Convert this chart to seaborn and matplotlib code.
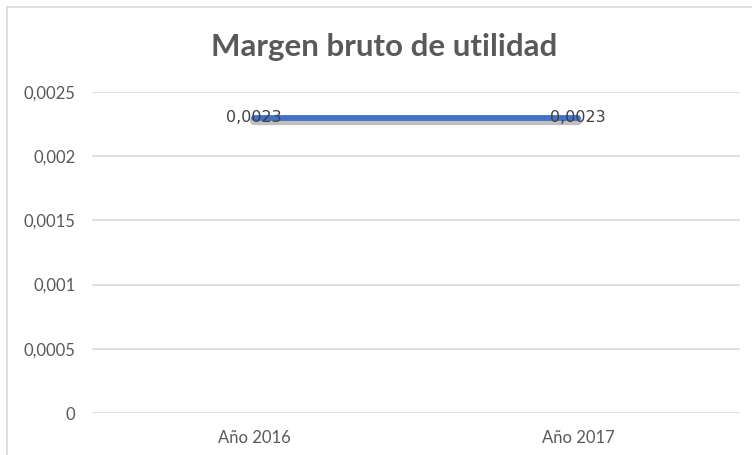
import matplotlib
matplotlib.use("Agg")
import matplotlib.pyplot as plt
import matplotlib.patheffects as pe
from matplotlib.lines import Line2D
import seaborn as sns
import pandas as pd

# Data
years = ["Año 2016", "Año 2017"]
margin = [0.0023, 0.0023]
margin_labels = ["0,0023", "0,0023"]
y_ticks = [0, 0.0005, 0.001, 0.0015, 0.002, 0.0025]
y_tick_labels = ["0", "0,0005", "0,001", "0,0015", "0,002", "0,0025"]
title = "Margen bruto de utilidad"

sns.set_theme(style="white")
plt.rcParams["font.family"] = ["Lato", "DejaVu Sans"]

df = pd.DataFrame({"year": years, "margin": margin})

fig = plt.figure(figsize=(7.52, 4.55), dpi=100)
ax = fig.add_axes([92 / 752, 1 - 413 / 455, (740 - 92) / 752, (413 - 92) / 455])

sns.lineplot(data=df, x="year", y="margin", ax=ax, color="#4472C4", linewidth=4.2,
             sort=False, legend=False,
             path_effects=[pe.SimpleLineShadow(offset=(0, -2.5), shadow_color="black", alpha=0.25,
                                               linewidth=6),
                           pe.Normal()])

for i, (v, lab) in enumerate(zip(margin, margin_labels)):
    ax.text(i, v, lab, ha="center", va="center", fontsize=11.5, color="#404040",
            family="DejaVu Sans", zorder=5)

ax.set_xlim(-0.5, 1.5)
ax.set_ylim(0, 0.0025)
ax.set_yticks(y_ticks)
ax.set_yticklabels(y_tick_labels)
ax.set_xlabel("")
ax.set_ylabel("")
ax.tick_params(axis="y", length=0, pad=12, labelsize=12, labelcolor="#595959")
ax.tick_params(axis="x", length=0, pad=12, labelsize=12, labelcolor="#595959")
ax.yaxis.grid(True, color="#d9d9d9", linewidth=1.2)
ax.set_axisbelow(True)
for s in ax.spines.values():
    s.set_visible(False)

fig.text(0.5 * (212 + 556) / 752, 1 - 47 / 455, title, ha="center", va="center",
         fontsize=22.5, fontweight="bold", color="#595959")

# Chart frame
fig.add_artist(Line2D([7 / 752, 7 / 752], [1 - 7 / 455, 0], transform=fig.transFigure,
                      color="#d9d9d9", linewidth=1.2))
fig.add_artist(Line2D([7 / 752, 1], [1 - 7 / 455, 1 - 7 / 455], transform=fig.transFigure,
                      color="#d9d9d9", linewidth=1.2))

fig.savefig("out.png", dpi=100)
